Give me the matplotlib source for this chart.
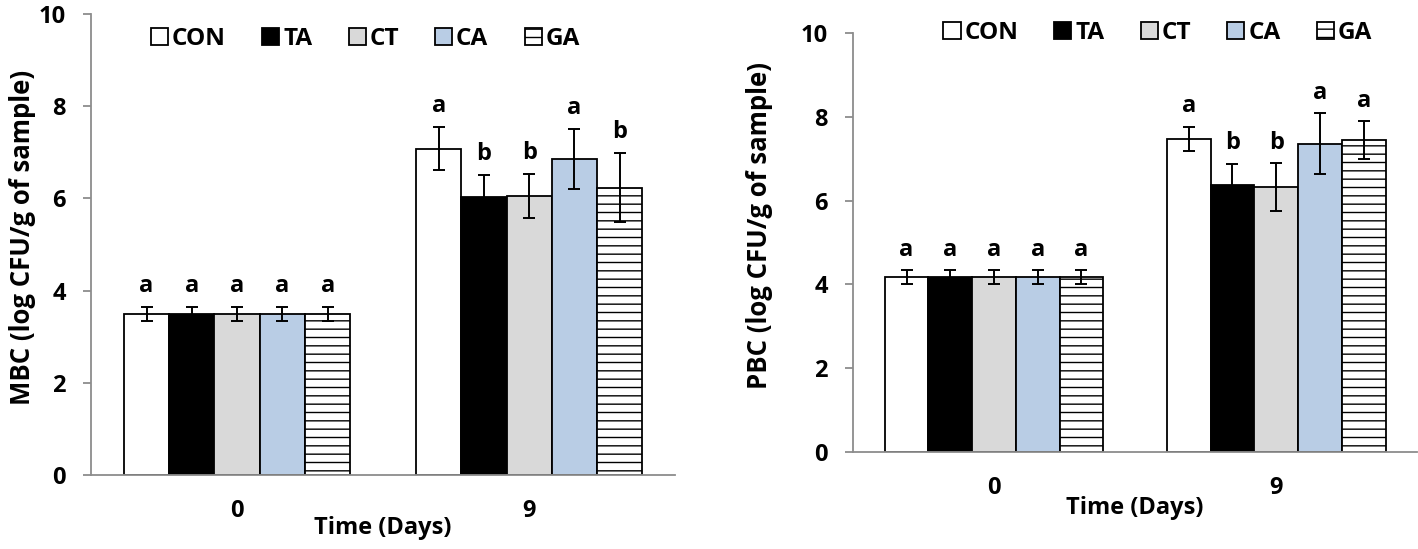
import numpy as np
import matplotlib
matplotlib.use("Agg")
import matplotlib.pyplot as plt

plt.rcParams['font.family'] = ['Open Sans', 'DejaVu Sans']
plt.rcParams['font.weight'] = 'bold'
plt.rcParams['hatch.linewidth'] = 1.0

days = ['0', '9']
treatments = ['CON', 'TA', 'CT', 'CA', 'GA']

# MBC (left panel), one list per treatment: [day 0, day 9]
mbc_mean = {
    'CON': [3.49, 7.08],
    'TA': [3.49, 6.03],
    'CT': [3.49, 6.05],
    'CA': [3.49, 6.85],
    'GA': [3.49, 6.23],
}
mbc_err = {
    'CON': [0.16, 0.47],
    'TA': [0.16, 0.48],
    'CT': [0.16, 0.48],
    'CA': [0.16, 0.65],
    'GA': [0.16, 0.75],
}
mbc_letters = {
    'CON': ['a', 'a'],
    'TA': ['a', 'b'],
    'CT': ['a', 'b'],
    'CA': ['a', 'a'],
    'GA': ['a', 'b'],
}

# PBC (right panel)
pbc_mean = {
    'CON': [4.18, 7.47],
    'TA': [4.18, 6.38],
    'CT': [4.18, 6.33],
    'CA': [4.18, 7.36],
    'GA': [4.18, 7.44],
}
pbc_err = {
    'CON': [0.16, 0.29],
    'TA': [0.16, 0.50],
    'CT': [0.16, 0.57],
    'CA': [0.16, 0.73],
    'GA': [0.16, 0.45],
}
pbc_letters = {
    'CON': ['a', 'a'],
    'TA': ['a', 'b'],
    'CT': ['a', 'b'],
    'CA': ['a', 'a'],
    'GA': ['a', 'a'],
}

colors = {'CON': 'white', 'TA': 'black', 'CT': '#d9d9d9', 'CA': '#b9cde5', 'GA': 'white'}
hatches = {'CON': None, 'TA': None, 'CT': None, 'CA': None, 'GA': '--'}
AXIS_GRAY = '#8c8c8c'


def draw_panel(ax, means, errs, letters, ylabel, ylab_xy, legend_x, legend_y, xlab_y):
    x = np.arange(len(days))
    w = 0.155
    for i, t in enumerate(treatments):
        pos = x + (i - 2) * w
        ax.bar(pos, means[t], width=w, color=colors[t], edgecolor='black',
               linewidth=1.3, hatch=hatches[t], label=t, zorder=2)
        ax.errorbar(pos, means[t], yerr=errs[t], fmt='none', ecolor='black',
                    elinewidth=1.4, capsize=4, capthick=1.4, zorder=3)
        for p, m, e, lab in zip(pos, means[t], errs[t], letters[t]):
            ax.text(p, m + e + 0.2, lab, ha='center', va='bottom',
                    fontsize=17, fontweight='bold')

    ax.set_xlim(-0.5, 1.5)
    ax.set_ylim(0, 10)
    ax.set_yticks([0, 2, 4, 6, 8, 10])
    ax.set_xticks(x)
    ax.set_xticklabels(days)
    for s in ['top', 'right']:
        ax.spines[s].set_visible(False)
    for s in ['left', 'bottom']:
        ax.spines[s].set_color(AXIS_GRAY)
        ax.spines[s].set_linewidth(1.3)
    ax.tick_params(axis='y', direction='out', length=6, width=1.3,
                   color=AXIS_GRAY, pad=12, labelsize=17)
    ax.tick_params(axis='x', length=0, pad=17, labelsize=17)
    ax.set_ylabel(ylabel, fontsize=18.5, fontweight='bold', va='center')
    ax.yaxis.set_label_coords(*ylab_xy)
    ax.set_xlabel('Time (Days)', fontsize=17, fontweight='bold', va='center')
    ax.xaxis.set_label_coords(0.5, xlab_y)

    ax.legend(loc='center', bbox_to_anchor=(legend_x, legend_y), ncol=5,
              frameon=False, fontsize=17.5, handlelength=0.7, handleheight=0.7,
              handletextpad=0.15, columnspacing=1.5, borderaxespad=0)


fig = plt.figure(figsize=(14.18, 5.49), dpi=100)
ax1 = fig.add_axes([0.0642, 0.1348, 0.412, 0.8397])
ax2 = fig.add_axes([0.6015, 0.1767, 0.398, 0.7632])

draw_panel(ax1, mbc_mean, mbc_err, mbc_letters,
           'MBC (log CFU/g of sample)', (-0.118, 0.515), 0.47, 0.945, -0.115)
draw_panel(ax2, pbc_mean, pbc_err, pbc_letters,
           'PBC (log CFU/g of sample)', (-0.165, 0.54), 0.54, 1.0, -0.134)

fig.savefig('out.png', dpi=100)
